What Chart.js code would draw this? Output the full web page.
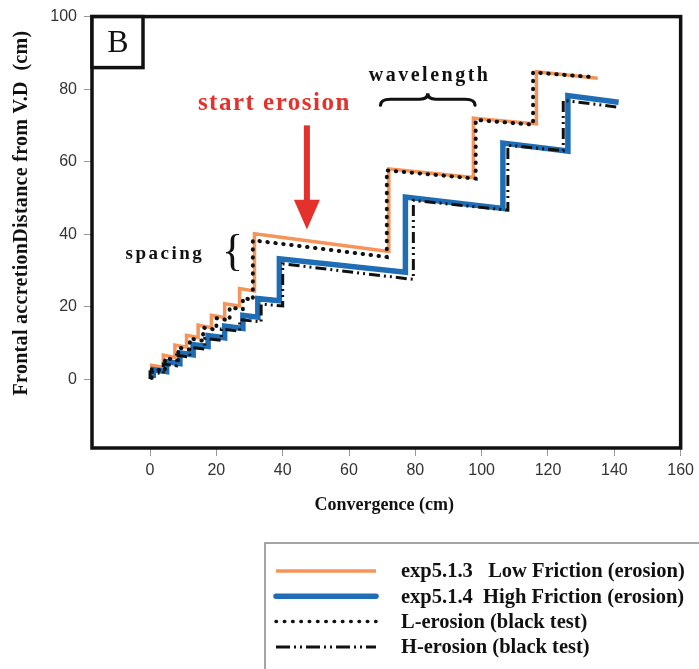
<!DOCTYPE html>
<html>
<head>
<meta charset="utf-8">
<script src="https://cdn.jsdelivr.net/npm/chart.js@4.4.0/dist/chart.umd.min.js"></script>
<style>
  body { margin: 0; background: #fff; }
  #wrap { width: 699px; height: 669px; }
</style>
</head>
<body>
<div id="wrap"><canvas id="c" width="699" height="669"></canvas></div>
<script>
// --- DATA ---
const xTicks = [0, 20, 40, 60, 80, 100, 120, 140, 160];
const yTicks = [0, 20, 40, 60, 80, 100];

// exp5.1.3 Low Friction (erosion)
const lowX = [0.5, 0.5, 4, 4, 7.5, 7.5, 11, 11, 14.5, 14.5, 18.5, 18.5, 22.5, 22.5, 27, 27, 31.5, 31.5, 72, 72, 97.5, 97.5, 116.5, 116.5, 135];
const lowY = [1.5, 3.8, 3.3, 6.6, 6, 9.4, 8.8, 12.1, 11.5, 14.9, 14.2, 17.6, 17, 20.8, 20.2, 25, 24.3, 40.1, 35.2, 58, 55.6, 72, 70.4, 84.8, 83];

// exp5.1.4 High Friction (erosion)
const highX = [1, 1, 5, 5, 9, 9, 13, 13, 17.5, 17.5, 22.5, 22.5, 28, 28, 32.5, 32.5, 39, 39, 77, 77, 106.4, 106.4, 126, 126, 141.3];
const highY = [0.3, 2.6, 2.1, 4.8, 4.3, 7.2, 6.7, 9.5, 9, 12, 11.4, 14.6, 14, 17.6, 17.1, 22.2, 21.6, 33.2, 29.5, 50.2, 47.1, 65.1, 62.9, 78.2, 76.4];

// L-erosion (black test)
const lTestX = [0.5, 0.5, 4.5, 4.5, 8.5, 8.5, 12, 12, 16, 16, 20, 20, 24, 24, 28, 28, 31, 31, 71.4, 71.4, 98.2, 98.2, 115.5, 115.5, 133.8];
const lTestY = [0.3, 2.8, 2.3, 5.8, 5.2, 8.7, 8.1, 11.2, 10.6, 14.2, 13.6, 16.8, 16.2, 19.8, 19.2, 22.4, 21.8, 38.3, 33.7, 57.6, 55.3, 71.5, 70.2, 84.6, 83.3];

// H-erosion (black test)
const hTestX = [0, 0, 4, 4, 8, 8, 12, 12, 16.5, 16.5, 21.5, 21.5, 27, 27, 33.5, 33.5, 40, 40, 79.4, 79.4, 107.9, 107.9, 124.6, 124.6, 141.3];
const hTestY = [0, 2, 1.5, 4.2, 3.7, 6.6, 6.1, 8.8, 8.3, 11.2, 10.7, 13.8, 13.2, 16.4, 15.8, 20.7, 20.2, 31.8, 27.5, 49.3, 46.6, 64.5, 63, 76.9, 75];

const ORANGE = '#f5955a';
const BLUE = '#1f6db5';
const BLACK = '#111';
const SERIF = '"Liberation Serif", "DejaVu Serif", serif';

const pts = (xs, ys) => xs.map((x, i) => ({ x: x, y: ys[i] }));

// --- LEGEND ROWS ---
const legendRows = [
  { text: 'exp5.1.3   Low Friction (erosion)', color: ORANGE, width: 3.5, dash: [], cap: 'butt' },
  { text: 'exp5.1.4  High Friction (erosion)', color: BLUE, width: 5.5, dash: [], cap: 'round' },
  { text: 'L-erosion (black test)', color: BLACK, width: 3.5, dash: [0.5, 7.8], cap: 'round' },
  { text: 'H-erosion (black test)', color: BLACK, width: 3, dash: [14, 4, 2, 4, 2, 4], cap: 'butt' }
];

// --- DRAW HELPERS ---
function hBrace(ctx, x1, x2, y, h) {
  const m = (x1 + x2) / 2;
  ctx.beginPath();
  ctx.moveTo(x1, y + h * 0.5);
  ctx.quadraticCurveTo(x1, y, x1 + 10, y);
  ctx.lineTo(m - 8, y);
  ctx.quadraticCurveTo(m, y, m, y - h * 0.5);
  ctx.quadraticCurveTo(m, y, m + 8, y);
  ctx.lineTo(x2 - 10, y);
  ctx.quadraticCurveTo(x2, y, x2, y + h * 0.5);
  ctx.stroke();
}

const decor = {
  id: 'decor',
  afterDraw(chart) {
    const ctx = chart.ctx;
    const a = chart.chartArea;
    const xs = chart.scales.x, ys = chart.scales.y;
    ctx.save();

    // frame
    ctx.strokeStyle = '#111';
    ctx.lineWidth = 3.5;
    ctx.strokeRect(a.left, a.top, a.right - a.left, a.bottom - a.top);

    // panel label box
    ctx.fillStyle = '#fff';
    ctx.fillRect(a.left, a.top, 51, 51);
    ctx.strokeRect(a.left, a.top, 51, 51);
    ctx.fillStyle = '#111';
    ctx.font = '32px ' + SERIF;
    ctx.textAlign = 'center';
    ctx.textBaseline = 'middle';
    ctx.fillText('B', a.left + 26, a.top + 27);

    // start erosion arrow
    const ax = xs.getPixelForValue(47.3);
    const aTop = ys.getPixelForValue(70);
    const aHead = ys.getPixelForValue(49.5);
    const aTip = ys.getPixelForValue(41.3);
    ctx.fillStyle = '#e5312b';
    ctx.fillRect(ax - 3, aTop, 6, aHead - aTop + 1);
    ctx.beginPath();
    ctx.moveTo(ax - 13, aHead);
    ctx.lineTo(ax + 13, aHead);
    ctx.lineTo(ax, aTip);
    ctx.closePath();
    ctx.fill();

    ctx.letterSpacing = '1.5px';
    ctx.font = 'bold 25px ' + SERIF;
    ctx.fillText('start erosion', xs.getPixelForValue(37.5), ys.getPixelForValue(76));

    // wavelength
    ctx.fillStyle = '#111';
    ctx.letterSpacing = '2.5px';
    ctx.font = 'bold 20px ' + SERIF;
    ctx.fillText('wavelength', xs.getPixelForValue(84.3), ys.getPixelForValue(83.8));
    ctx.strokeStyle = '#111';
    ctx.lineWidth = 3.2;
    ctx.lineCap = 'round';
    hBrace(ctx, xs.getPixelForValue(69.5), xs.getPixelForValue(98), ys.getPixelForValue(77.2), 12);

    // spacing
    ctx.font = 'bold 19px ' + SERIF;
    ctx.fillText('spacing', xs.getPixelForValue(4.5), ys.getPixelForValue(34.6));
    ctx.letterSpacing = '0px';
    ctx.font = '44px ' + SERIF;
    ctx.fillText('{', xs.getPixelForValue(24.9), ys.getPixelForValue(34.6));

    // axis titles
    ctx.font = 'bold 18px ' + SERIF;
    ctx.fillText('Convergence (cm)', (a.left + a.right) / 2 - 2, 505);
    ctx.save();
    ctx.translate(22, 213);
    ctx.rotate(-Math.PI / 2);
    ctx.letterSpacing = '0.3px';
    ctx.font = 'bold 20px ' + SERIF;
    ctx.fillText('Frontal accretionDistance from V.D  (cm)', 0, 0);
    ctx.restore();

    // legend
    ctx.strokeStyle = '#888';
    ctx.lineWidth = 1.5;
    ctx.strokeRect(265, 543, 500, 200);
    ctx.textAlign = 'left';
    ctx.font = 'bold 20.5px ' + SERIF;
    legendRows.forEach((r, i) => {
      const y = 571 + i * 25.3;
      ctx.strokeStyle = r.color;
      ctx.lineWidth = r.width;
      ctx.lineCap = r.cap;
      ctx.setLineDash(r.dash);
      ctx.beginPath();
      ctx.moveTo(276, y);
      ctx.lineTo(376, y);
      ctx.stroke();
      ctx.setLineDash([]);
      ctx.fillStyle = '#111';
      ctx.fillText(r.text, 401, y + 1);
    });
    ctx.restore();
  }
};

new Chart(document.getElementById('c'), {
  type: 'line',
  data: {
    datasets: [
      { label: 'exp5.1.3 Low Friction (erosion)', data: pts(lowX, lowY), borderColor: ORANGE, borderWidth: 3.5, order: 4 },
      { label: 'exp5.1.4 High Friction (erosion)', data: pts(highX, highY), borderColor: BLUE, borderWidth: 5.5, order: 3 },
      { label: 'L-erosion (black test)', data: pts(lTestX, lTestY), borderColor: BLACK, borderWidth: 4, borderDash: [0.5, 7.5], borderCapStyle: 'round', order: 2 },
      { label: 'H-erosion (black test)', data: pts(hTestX, hTestY), borderColor: BLACK, borderWidth: 3, borderDash: [11, 4, 2, 4, 2, 4], order: 1 }
    ]
  },
  options: {
    responsive: false,
    animation: false,
    events: [],
    layout: { padding: { top: 16, right: 15, left: 0, bottom: 185 } },
    elements: { point: { radius: 0 }, line: { tension: 0, borderJoinStyle: 'miter' } },
    plugins: { legend: { display: false }, tooltip: { enabled: false } },
    scales: {
      x: {
        type: 'linear', min: -17.5, max: 160,
        afterBuildTicks: s => { s.ticks = xTicks.map(v => ({ value: v })); },
        afterFit: s => { s.height = 36; },
        grid: { drawOnChartArea: false, tickLength: 8, color: '#999' },
        border: { display: false },
        ticks: { autoSkip: false, maxRotation: 0, padding: 5, color: '#333', font: { family: 'Liberation Sans', size: 16 } }
      },
      y: {
        min: -19, max: 100,
        afterBuildTicks: s => { s.ticks = yTicks.map(v => ({ value: v })); },
        afterFit: s => { s.width = 92; },
        grid: { drawOnChartArea: false, tickLength: 8, color: '#999' },
        border: { display: false },
        ticks: { autoSkip: false, padding: 7, color: '#333', font: { family: 'Liberation Sans', size: 16 } }
      }
    }
  },
  plugins: [decor]
});
</script>
</body>
</html>
